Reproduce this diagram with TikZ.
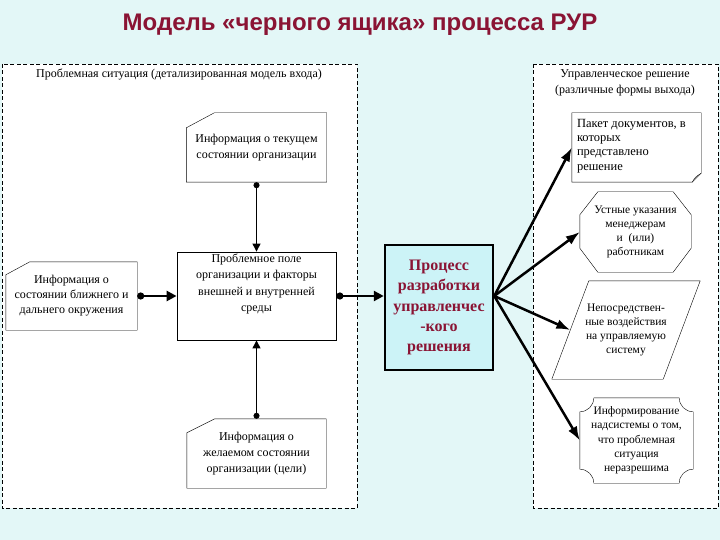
\documentclass[tikz,border=0pt]{standalone}
\usepackage{fontspec}
\setmainfont{Liberation Serif}
\newfontfamily\titlefont{Liberation Sans}
\usetikzlibrary{arrows.meta}
\definecolor{bgcyan}{HTML}{E3F7F7}
\definecolor{procfill}{HTML}{CCF3F7}
\definecolor{titlered}{HTML}{8A1434}
\begin{document}
\begin{tikzpicture}[x=1pt, y=-1pt,
  panel/.style={draw, fill=white, line width=0.8pt, dash pattern=on 4pt off 2.5pt},
  info/.style={inner sep=0, align=center, font=\fontsize{12}{16}\selectfont},
  outinfo/.style={inner sep=0, align=center, font=\fontsize{11.5}{14.3}\selectfont},
  thinarr/.style={line width=1pt, {Circle[length=6pt]}-{Triangle[length=8pt, width=8pt]}},
  thickarr/.style={line width=2.5pt, {Circle[length=7pt]}-{Triangle[length=10pt, width=10pt]}},
  fanarr/.style={line width=2.5pt, -{Latex[length=14pt, width=10pt]}}]
\fill[bgcyan] (0,0) rectangle (720,540);
\node[font=\titlefont\bfseries\fontsize{24}{28}\selectfont, text=titlered] (title) at (360,25) {Модель «черного ящика» процесса РУР};
\draw[panel] (2,64) rectangle (357,508);
\draw[panel] (533,64) rectangle (718,508);
\node[info] (inhead) at (179,75) {Проблемная ситуация (детализированная модель входа)};
\node[info] (outhead) at (625,83) {Управленческое решение\\(различные формы выхода)};

\node[info, minimum width=140, minimum height=69] (cur) at (256.5,147.5) {Информация о текущем\\состоянии организации};
\draw ([yshift=-15pt]cur.north west) -- ([xshift=28pt]cur.north west) -- (cur.north east) -- (cur.south east) -- (cur.south west) -- cycle;
\node[info, font=\fontsize{12}{15}\selectfont, minimum width=131, minimum height=68] (env) at (71.5,296) {Информация о\\состоянии ближнего и\\дальнего окружения};
\draw ([yshift=-13pt]env.north west) -- ([xshift=24pt]env.north west) -- (env.north east) -- (env.south east) -- (env.south west) -- cycle;
\node[info, minimum width=139, minimum height=69] (goal) at (256.5,453.5) {Информация о\\желаемом состоянии\\организации (цели)};
\draw ([yshift=-14pt]goal.north west) -- ([xshift=28pt]goal.north west) -- (goal.north east) -- (goal.south east) -- (goal.south west) -- cycle;
\node[draw, line width=0.8pt, minimum width=159, minimum height=88, inner sep=0] (field) at (256.5,296) {};
\node[info, font=\fontsize{12}{16.5}\selectfont, anchor=north] (fieldtxt) at ([yshift=-2pt]field.north) {Проблемное поле\\организации и факторы\\внешней и внутренней\\среды};

\node[draw, fill=procfill, line width=2.5pt, minimum width=108, minimum height=125, inner sep=0, align=center,
  text=titlered, font=\bfseries\fontsize{16}{20.3}\selectfont] (proc) at (439,307.5) {Процесс\\разработки\\управленчес\\-кого\\решения};

\node[outinfo, minimum width=129, minimum height=69] (doc) at (636.5,147.5) {};
\draw (doc.north west) -- (doc.north east) -- ([yshift=9pt]doc.south east) -- ([xshift=-9pt]doc.south east) -- (doc.south west) -- cycle;
\draw ([xshift=-9pt]doc.south east) .. controls ([xshift=-6pt,yshift=5pt]doc.south east) .. ([yshift=9pt]doc.south east);
\node[outinfo, font=\fontsize{12.5}{14.3}\selectfont, align=left, anchor=north west] (doctxt) at ([xshift=5pt,yshift=-6pt]doc.north west) {Пакет документов, в\\которых\\представлено\\решение};
\node[outinfo, minimum width=111, minimum height=80] (oral) at (635.5,232) {Устные указания\\менеджерам\\и \ (или)\\работникам};
\draw ([xshift=18pt]oral.north west) -- ([xshift=-18pt]oral.north east) -- ([yshift=-23pt]oral.north east) -- ([yshift=24pt]oral.south east) -- ([xshift=-18pt]oral.south east) -- ([xshift=18pt]oral.south west) -- ([yshift=24pt]oral.south west) -- ([yshift=-23pt]oral.north west) -- cycle;
\node[outinfo, minimum width=148, minimum height=98] (act) at (626,330) {Непосредствен-\\ные воздействия\\на управляемую\\систему};
\draw ([xshift=37pt]act.north west) -- (act.north east) -- ([xshift=-37pt]act.south east) -- (act.south west) -- cycle;
\coordinate (actin) at ([xshift=18.5pt]act.west);
\node[outinfo, minimum width=113, minimum height=85] (super) at (636.5,440.5) {Информирование\\надсистемы о том,\\что проблемная\\ситуация\\неразрешима};
\draw ([xshift=14pt]super.north west) -- ([xshift=-14pt]super.north east) arc[start angle=180, end angle=90, radius=14]
  -- ([yshift=14pt]super.south east) arc[start angle=270, end angle=180, radius=14]
  -- ([xshift=14pt]super.south west) arc[start angle=0, end angle=-90, radius=14]
  -- ([yshift=-14pt]super.north west) arc[start angle=90, end angle=0, radius=14];

\draw[thinarr] (cur.south) -- (field.north);
\draw[thinarr] (goal.north) -- (field.south);
\draw[thickarr] (env.east) -- (field.west);
\draw[thickarr] (field.east) -- (field.east -| proc.west);
\coordinate (fan) at (field.east -| proc.east);
\draw[fanarr] (fan) -- (doc.west);
\draw[fanarr] (fan) -- (oral.west);
\draw[fanarr] (fan) -- (actin);
\draw[fanarr] (fan) -- (super.west);
\end{tikzpicture}
\end{document}
